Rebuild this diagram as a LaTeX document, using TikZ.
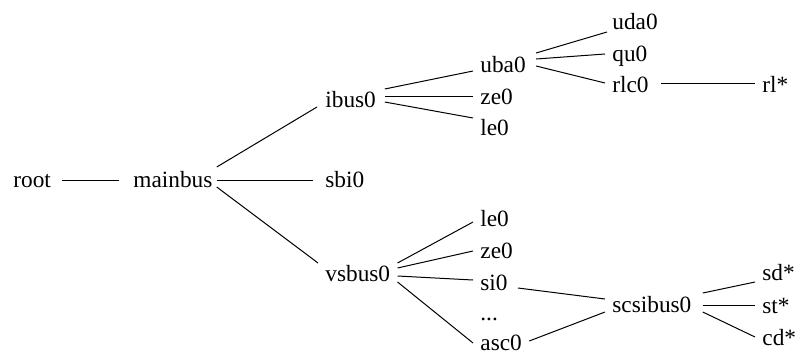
\documentclass[tikz,border=0pt]{standalone}
\usepackage{fontspec}
\setmainfont{Liberation Serif}
\usetikzlibrary{calc}
\tikzset{
  lbl/.style={anchor=base west, inner sep=0pt, font=\fontsize{11.65}{14}\selectfont},
  edge/.style={draw=black, line width=0.5pt}
}
\begin{document}
\begin{tikzpicture}[x=0.5pt, y=-0.5pt]
\useasboundingbox (0,0) rectangle (796,354);
% nodes
\node[lbl] (root) at (13,187) {root};
\node[lbl] (mainbus) at (133,187) {mainbus};
\node[lbl] (ibus0) at (325,107) {ibus0};
\node[lbl] (sbi0) at (325,187) {sbi0};
\node[lbl] (vsbus0) at (325,281) {vsbus0};
\node[lbl] (uba0) at (480,72) {uba0};
\node[lbl] (ze0a) at (480,104) {ze0};
\node[lbl] (le0a) at (480,135) {le0};
\node[lbl] (uda0) at (612,29) {uda0};
\node[lbl] (qu0) at (612,61) {qu0};
\node[lbl] (rlc0) at (612,92) {rlc0};
\node[lbl] (rl) at (762,92) {rl*};
\node[lbl] (le0b) at (480,226) {le0};
\node[lbl] (ze0b) at (480,258) {ze0};
\node[lbl] (si0) at (480,290) {si0};
\node[lbl] (dots) at (480,320) {...};
\node[lbl] (asc0) at (480,350) {asc0};
\node[lbl] (scsibus0) at (612,312) {scsibus0};
\node[lbl] (sd) at (762,280) {sd*};
\node[lbl] (st) at (762,313) {st*};
\node[lbl] (cd) at (762,345) {cd*};
% connectors
\draw[edge] ($(root.base east)+(10.5,-7)$) -- ($(mainbus.base west)+(-14,-7)$);
\draw[edge] ($(mainbus.base east)+(4,-20)$) -- ($(ibus0.base west)+(-8,0)$);
\draw[edge] ($(mainbus.base east)+(4,-7)$) -- ($(sbi0.base west)+(-12,-7)$);
\draw[edge] ($(mainbus.base east)+(4,0)$) -- ($(vsbus0.base west)+(-7,-18)$);
\draw[edge] ($(ibus0.base east)+(8.5,-18)$) -- ($(uba0.base west)+(-7,-1)$);
\draw[edge] ($(ibus0.base east)+(8.5,-11)$) -- ($(ze0a.base west)+(-7,-8)$);
\draw[edge] ($(ibus0.base east)+(8.5,-5)$) -- ($(le0a.base west)+(-7,-17)$);
\draw[edge] ($(uba0.base east)+(10,-19)$) -- ($(uda0.base west)+(-5,3)$);
\draw[edge] ($(uba0.base east)+(10,-13)$) -- ($(qu0.base west)+(-7,-7)$);
\draw[edge] ($(uba0.base east)+(10,-6)$) -- ($(rlc0.base west)+(-7,-9)$);
\draw[edge] ($(rlc0.base east)+(12,-9)$) -- ($(rl.base west)+(-7,-9)$);
\draw[edge] ($(vsbus0.base east)+(7,-18)$) -- ($(le0b.base west)+(-7,-4)$);
\draw[edge] ($(vsbus0.base east)+(7,-13)$) -- ($(ze0b.base west)+(-7,-7)$);
\draw[edge] ($(vsbus0.base east)+(7,-5)$) -- ($(si0.base west)+(-7,-10)$);
\draw[edge] ($(vsbus0.base east)+(7,1)$) -- ($(asc0.base west)+(-7,-7)$);
\draw[edge] ($(si0.base east)+(10,-2)$) -- ($(scsibus0.base west)+(-7,-13)$);
\draw[edge] ($(asc0.base east)+(7,-9)$) -- ($(scsibus0.base west)+(-7,0)$);
\draw[edge] ($(scsibus0.base east)+(11,-19)$) -- ($(sd.base west)+(-7,2)$);
\draw[edge] ($(scsibus0.base east)+(11,-7)$) -- ($(st.base west)+(-7,-8)$);
\draw[edge] ($(scsibus0.base east)+(11,0)$) -- ($(cd.base west)+(-7,-8)$);
\end{tikzpicture}
\end{document}
